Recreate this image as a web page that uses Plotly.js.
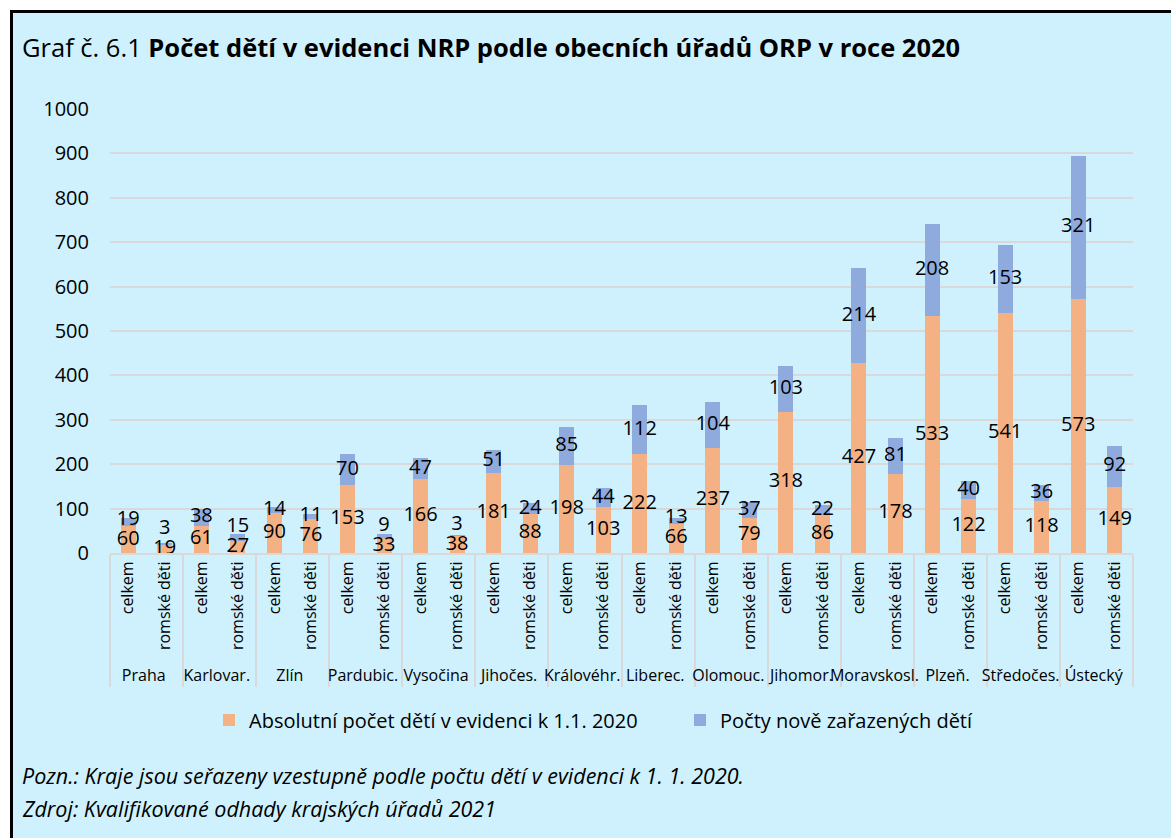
<!DOCTYPE html>
<html>
<head>
<meta charset="utf-8">
<script src="https://cdn.plot.ly/plotly-3.0.1.min.js"></script>
<style>
  html, body { margin:0; padding:0; background:#ffffff; width:1171px; height:838px; overflow:hidden; }
  #bg { position:absolute; left:10px; top:10px; width:1161px; height:828px; background:#cff1fd;
        border-left:3px solid #000; border-top:3px solid #000; box-sizing:border-box; }
  #chart { position:absolute; left:0; top:0; width:1171px; height:838px; }
</style>
</head>
<body>
<div id="bg"></div>
<div id="chart"></div>
<script>
const regions = ["Praha","Karlovar.","Zlín","Pardubic.","Vysočina","Jihočes.","Královéhr.","Liberec.","Olomouc.","Jihomor.","Moravskosl.","Plzeň.","Středočes.","Ústecký"];
const subs = ["celkem","romské děti"];
// celkem
const celkemEvidence = [60,61,90,153,166,181,198,222,237,318,427,533,541,573];
const celkemNove     = [19,38,14,70,47,51,85,112,104,103,214,208,153,321];
// romské děti
const romEvidence = [19,27,76,33,38,88,103,66,79,86,178,122,118,149];
const romNove     = [3,15,11,9,3,24,44,13,37,22,81,40,36,92];

const seriesNames = ["Absolutní počet dětí v evidenci k 1.1. 2020","Počty nově zařazených dětí"];
const colors = ["#f4b183","#8faadc"];
const yTicks = [0,100,200,300,400,500,600,700,800,900,1000];

const xOuter = [], xInner = [], evid = [], nove = [];
regions.forEach((r,i)=>{
  xOuter.push(r, r); xInner.push(subs[0], subs[1]);
  evid.push(celkemEvidence[i], romEvidence[i]);
  nove.push(celkemNove[i], romNove[i]);
});
const X = [xOuter, xInner];

// label positions: segment centres, nudged apart when too close (as the original does)
const minSep = 45;
const evidLabY = evid.map(v => v/2);
const noveLabY = nove.map((v,i) => Math.max(evid[i] + v/2, evid[i]/2 + minSep));

const FONT = '"Open Sans", "Noto Sans", sans-serif';

const traces = [
  {type:'bar', name:seriesNames[0], x:X, y:evid, marker:{color:colors[0]}, hoverinfo:'skip'},
  {type:'bar', name:seriesNames[1], x:X, y:nove, marker:{color:colors[1]}, hoverinfo:'skip'},
  {type:'scatter', mode:'text', x:X, y:evidLabY, text:evid.map(String), textposition:'middle center',
   textfont:{size:20, color:'#000', family:FONT}, showlegend:false, hoverinfo:'skip', cliponaxis:false},
  {type:'scatter', mode:'text', x:X, y:noveLabY, text:nove.map(String), textposition:'middle center',
   textfont:{size:20, color:'#000', family:FONT}, showlegend:false, hoverinfo:'skip', cliponaxis:false}
];

const L = 110, R = 38, T = 109, B = 285;
const W = 1171, H = 838;
const pw = W - L - R, ph = H - T - B;
const px2x = px => (px - L)/pw;
const px2y = py => (H - B - py)/ph;

const layout = {
  width: W, height: H,
  margin: {l:L, r:R, t:T, b:B, pad:0},
  paper_bgcolor:'rgba(0,0,0,0)', plot_bgcolor:'rgba(0,0,0,0)',
  font:{family:FONT, color:'#000'},
  barmode:'stack', bargap:0.59,
  title:{text:'Graf č. 6.1 <b>Počet dětí v evidenci NRP podle obecních úřadů ORP v roce 2020</b>',
         x:22/W, xanchor:'left', xref:'container', y:1-48/H, yanchor:'middle', yref:'container',
         font:{size:25.5, color:'#000', family:FONT}},
  xaxis:{type:'multicategory', range:[-0.5, 2*regions.length-0.5], autorange:false,
         tickangle:-90, tickfont:{size:16, color:'#000', family:FONT},
         showline:true, linecolor:'#d9d9d9', linewidth:2, ticks:'', showgrid:false,
         showdividers:true, dividercolor:'#d9d9d9', dividerwidth:2, fixedrange:true},
  yaxis:{range:[0,1000], tickvals:yTicks, ticktext:yTicks.map(String), showgrid:true,
         gridcolor:'#d9d9d9', gridwidth:2, zeroline:false, showline:false, ticks:'',
         tickfont:{size:20, color:'#000', family:FONT}, ticklabelstandoff:20, fixedrange:true},
  showlegend:true,
  legend:{orientation:'h', x:px2x(209), xanchor:'left', y:px2y(720), yanchor:'middle',
          font:{size:20, color:'#000', family:FONT}, bgcolor:'rgba(0,0,0,0)', traceorder:'normal',
          itemwidth:30, entrywidth:426, entrywidthmode:'pixels'},
  annotations:[
    {text:'<i>Pozn.: Kraje jsou seřazeny vzestupně podle počtu dětí v evidenci k 1. 1. 2020.</i>',
     xref:'paper', yref:'paper', x:px2x(20), y:px2y(775), xanchor:'left', yanchor:'middle',
     showarrow:false, font:{size:21.5, color:'#000', family:FONT}},
    {text:'<i>Zdroj: Kvalifikované odhady krajských úřadů 2021</i>',
     xref:'paper', yref:'paper', x:px2x(20), y:px2y(808), xanchor:'left', yanchor:'middle',
     showarrow:false, font:{size:21.5, color:'#000', family:FONT}}
  ]
};

Plotly.newPlot('chart', traces, layout, {displayModeBar:false, staticPlot:true});
</script>
</body>
</html>
